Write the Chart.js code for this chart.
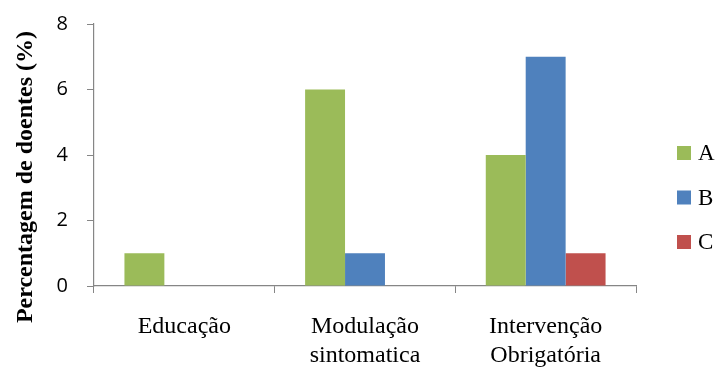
<!DOCTYPE html>
<html lang="pt">
<head>
    <meta charset="UTF-8">
    <title>Percentagem de doentes</title>
    <script src="https://cdn.jsdelivr.net/npm/chart.js"></script>
    <style>
        html, body { margin: 0; padding: 0; background: #fff; }
        #wrap { width: 718px; height: 369px; }
    </style>
</head>
<body>
    <div id="wrap"><canvas id="chart"></canvas></div>

    <script>
        // Chart data
        const categories = [['Educação'], ['Modulação', 'sintomatica'], ['Intervenção', 'Obrigatória']];
        const seriesNames = ['A', 'B', 'C'];
        const valuesA = [1, 6, 4];
        const valuesB = [0, 1, 7];
        const valuesC = [0, 0, 1];
        const yTicks = [0, 2, 4, 6, 8];
        const yTitle = 'Percentagem de doentes (%)';

        const colors = ['#9BBB59', '#4F81BD', '#C0504D'];
        const axisGray = '#868686';
        const serif = '"Liberation Serif", "Times New Roman", serif';

        // Legend on the right + rotated y title, placed like the Excel original
        const extras = {
            id: 'extras',
            afterDraw(chart) {
                const c = chart.ctx;
                const boxX = 677, textX = 698, firstY = 153, step = 44.5, box = 14;
                c.save();
                c.font = '23px ' + serif;
                c.textBaseline = 'middle';
                chart.data.datasets.forEach((ds, i) => {
                    const y = firstY + i * step;
                    c.fillStyle = ds.backgroundColor;
                    c.fillRect(boxX, y - box / 2, box, box);
                    c.fillStyle = '#000';
                    c.fillText(ds.label, textX, y + 1);
                });
                c.restore();

                // y axis title
                c.save();
                c.translate(26, 177);
                c.rotate(-Math.PI / 2);
                c.font = 'bold 24px ' + serif;
                c.textAlign = 'center';
                c.textBaseline = 'middle';
                c.fillStyle = '#000';
                c.fillText(yTitle, 0, 0);
                c.restore();
            }
        };

        const ctx = document.getElementById('chart').getContext('2d');

        new Chart(ctx, {
            type: 'bar',
            data: {
                labels: categories,
                datasets: [valuesA, valuesB, valuesC].map((vals, i) => ({
                    label: seriesNames[i],
                    data: vals,
                    backgroundColor: colors[i],
                    borderWidth: 0,
                    categoryPercentage: 0.663,
                    barPercentage: 1.0
                }))
            },
            options: {
                responsive: true,
                maintainAspectRatio: false,
                animation: false,
                layout: { padding: { top: 24, right: 82, left: 0, bottom: 0 } },
                plugins: {
                    tooltip: { enabled: false },
                    legend: { display: false }
                },
                scales: {
                    x: {
                        grid: {
                            offset: true,
                            drawOnChartArea: false,
                            tickLength: 7,
                            color: axisGray
                        },
                        border: { color: axisGray, width: 1.2 },
                        ticks: {
                            color: '#000',
                            padding: 19,
                            maxRotation: 0,
                            autoSkip: false,
                            font: { family: serif, size: 24, lineHeight: 1.22 }
                        },
                        afterFit: scale => { scale.height = 83; }
                    },
                    y: {
                        min: 0,
                        max: 8,
                        afterBuildTicks: scale => { scale.ticks = yTicks.map(v => ({ value: v })); },
                        grid: {
                            drawOnChartArea: false,
                            tickLength: 7,
                            color: axisGray
                        },
                        border: { color: axisGray, width: 1.2 },
                        ticks: {
                            color: '#000',
                            padding: 19,
                            font: { family: '"Open Sans", sans-serif', size: 20 }
                        },
                        afterFit: scale => {
                            scale.width = 94;
                            scale.paddingTop = 0;
                            scale.paddingBottom = 0;
                        }
                    }
                }
            },
            plugins: [extras]
        });
    </script>
</body>
</html>
